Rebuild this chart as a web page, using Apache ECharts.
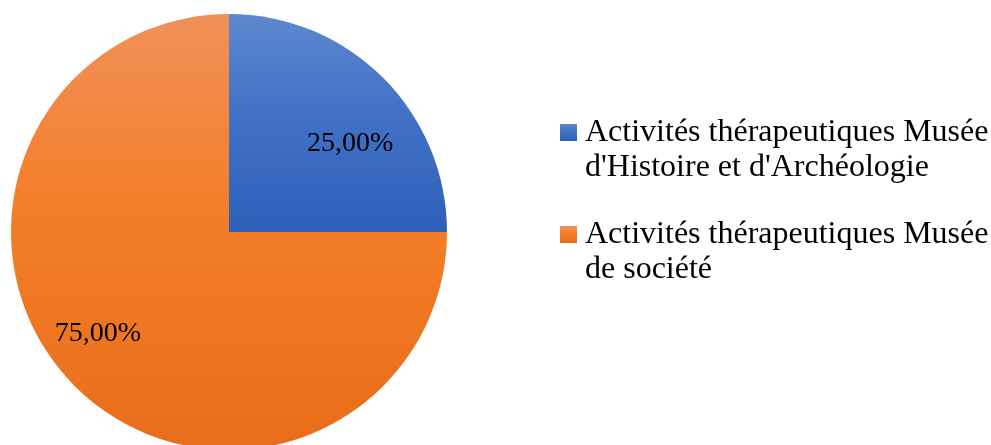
<!DOCTYPE html>
<html>
<head>
<meta charset="utf-8">
<script src="https://cdn.jsdelivr.net/npm/echarts@6/dist/echarts.min.js"></script>
<style>
  html, body { margin: 0; padding: 0; background: #fff; }
  #chart { width: 991px; height: 445px; }
</style>
</head>
<body>
<div id="chart"></div>
<script>
const categories = [
  "Activités thérapeutiques Musée\nd'Histoire et d'Archéologie",
  "Activités thérapeutiques Musée\nde société"
];
const shares = [25, 75];

// Excel-like vertical gradients (stops: top, middle, bottom)
const fills = [
  ['#5D88CF', '#4272C6', '#2E60B8'],
  ['#F0915A', '#F47E28', '#E86D1A']
];
const labelOffsets = [[42, -9], [-52, 22]];

const chart = echarts.init(document.getElementById('chart'));
chart.setOption({
  animation: false,
  textStyle: { fontFamily: 'Liberation Serif' },
  legend: {
    orient: 'vertical',
    left: 555,
    top: 75,
    itemWidth: 17,
    itemHeight: 17,
    itemGap: -3,
    icon: 'rect',
    // leading blank line keeps the icon level with the first text line
    formatter: name => '\n' + name,
    textStyle: {
      fontFamily: 'Liberation Serif',
      fontSize: 32,
      color: '#000',
      lineHeight: 35,
      padding: [0, 0, 0, 3]
    },
    data: categories
  },
  series: [{
    type: 'pie',
    center: [229, 232],
    radius: 218,
    startAngle: 90,
    clockwise: true,
    label: {
      show: true,
      position: 'inside',
      fontFamily: 'Liberation Serif',
      fontSize: 28,
      color: '#000',
      formatter: p => p.value.toFixed(2).replace('.', ',') + '%'
    },
    labelLine: { show: false },
    emphasis: { disabled: true },
    data: categories.map((name, i) => ({
      name: name,
      value: shares[i],
      label: { offset: labelOffsets[i] },
      itemStyle: {
        color: new echarts.graphic.LinearGradient(0, 0, 0, 1, [
          { offset: 0, color: fills[i][0] },
          { offset: 0.45, color: fills[i][1] },
          { offset: 1, color: fills[i][2] }
        ])
      }
    }))
  }]
});
</script>
</body>
</html>
